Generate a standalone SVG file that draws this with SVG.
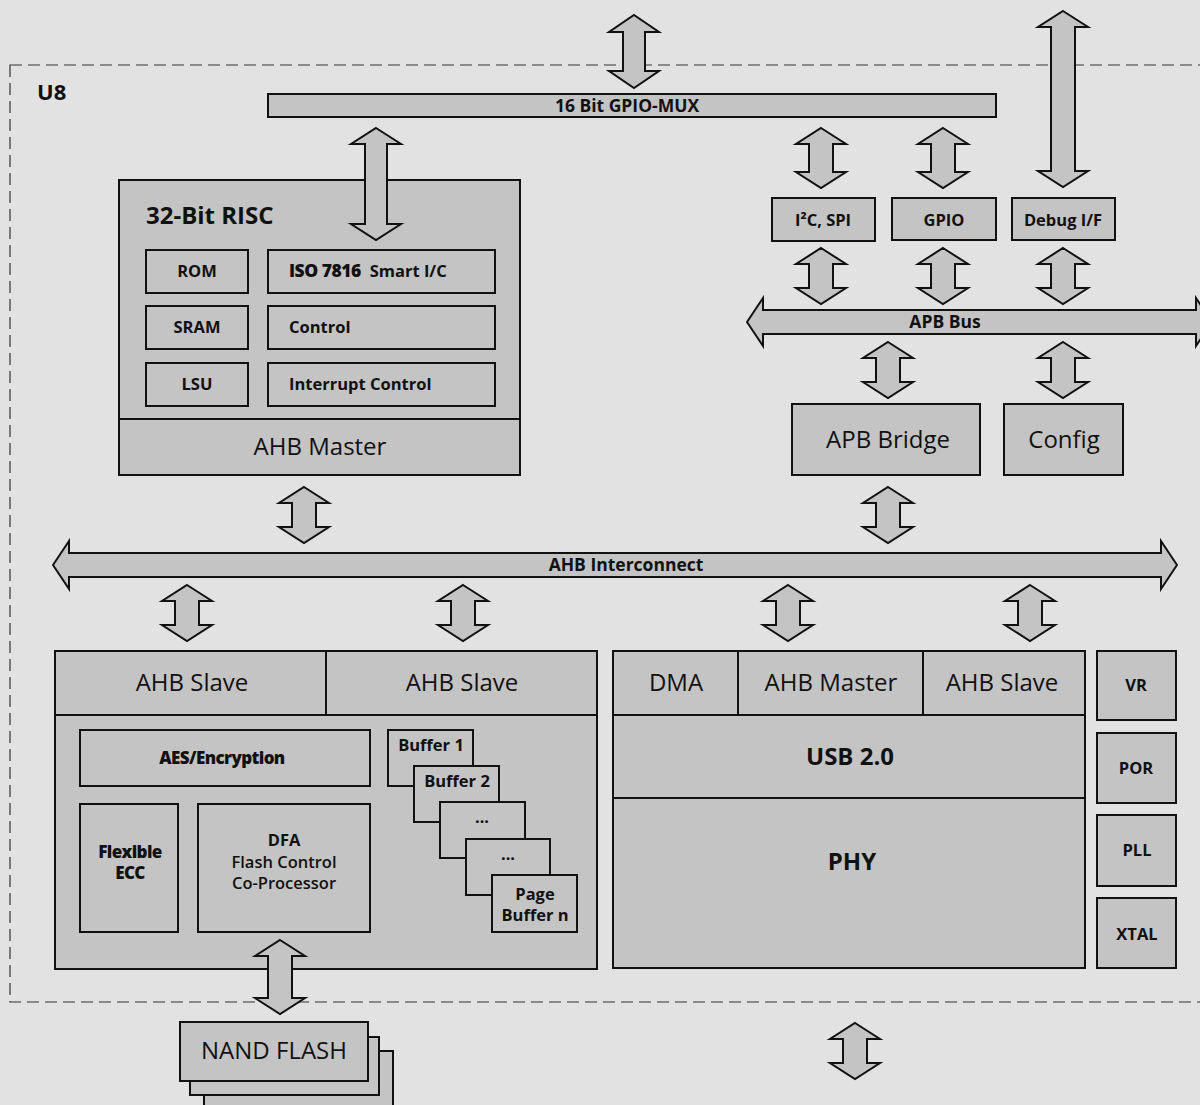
<svg xmlns="http://www.w3.org/2000/svg" xmlns:xlink="http://www.w3.org/1999/xlink" width="1200" height="1105" viewBox="0 0 1200 1105">
<defs>
<style>
.bx{fill:#c4c4c4;stroke:#111;stroke-width:2}
.ln{fill:none;stroke:#111;stroke-width:2}
.ar{fill:#c4c4c4;stroke:#111;stroke-width:2;stroke-linejoin:miter}
text{font-family:"Open Sans","Noto Sans","DejaVu Sans",sans-serif;fill:#111}
.b15{font-size:16.5px;font-weight:bold;text-anchor:middle}
.bus{font-size:17.5px;font-weight:bold;text-anchor:middle}
.n22{font-size:24px;text-anchor:middle}
.b22{font-size:24px;font-weight:bold;text-anchor:middle}
.hv{font-size:17px;font-weight:900;text-anchor:middle;letter-spacing:-0.6px}
</style>
<path id="da" d="M0,0 L25,16 L12,16 L12,40 L25,40 L0,56 L-25,40 L-12,40 L-12,16 L-25,16 Z"/>
</defs>
<rect x="0" y="0" width="1200" height="1105" fill="#e2e2e2"/>
<rect id="u8-border" x="10" y="65" width="1220" height="937" fill="none" stroke="#333" stroke-width="1.2" stroke-dasharray="12 6"/>
<text x="37" y="100" font-size="22" font-weight="bold">U8</text>

<g id="gpio-mux">
<rect class="bx" x="268" y="94" width="728" height="23"/>
<text class="bus" x="627" y="112">16 Bit GPIO-MUX</text>
</g>

<g id="i2c-spi"><rect class="bx" x="772" y="198" width="103" height="43"/><text class="b15" x="823" y="226">I²C, SPI</text></g>
<g id="gpio"><rect class="bx" x="892" y="198" width="104" height="42"/><text class="b15" x="944" y="226">GPIO</text></g>
<g id="debug-if"><rect class="bx" x="1012" y="198" width="103" height="42"/><text class="b15" x="1063" y="226">Debug I/F</text></g>

<g id="apb-bus">
<path class="ar" d="M747,322 L763,298 L763,310 L1196,310 L1196,298 L1212,322 L1196,346 L1196,334 L763,334 L763,346 Z"/>
<text class="bus" x="945" y="328">APB Bus</text>
</g>

<g id="apb-bridge"><rect class="bx" x="792" y="404" width="188" height="71"/><text class="n22" x="888" y="448" font-size="24.5">APB Bridge</text></g>
<g id="config"><rect class="bx" x="1004" y="404" width="119" height="71"/><text class="n22" x="1064" y="448" font-size="24.5">Config</text></g>

<g id="risc">
<rect class="bx" x="119" y="180" width="401" height="295"/>
<line class="ln" x1="119" y1="419" x2="520" y2="419"/>
<text x="146" y="224" font-size="24" font-weight="bold">32-Bit RISC</text>
<rect class="bx" x="146" y="250" width="102" height="43"/><text class="b15" x="197" y="277">ROM</text>
<rect class="bx" x="146" y="306" width="102" height="43"/><text class="b15" x="197" y="333">SRAM</text>
<rect class="bx" x="146" y="363" width="102" height="43"/><text class="b15" x="197" y="390">LSU</text>
<rect class="bx" x="268" y="250" width="227" height="43"/>
<text x="289" y="277" font-size="16.5" font-weight="bold"><tspan font-weight="900" font-size="17.5" letter-spacing="-0.5">ISO 7816</tspan><tspan dx="9">Smart I/C</tspan></text>
<rect class="bx" x="268" y="306" width="227" height="43"/><text x="289" y="333" font-size="16.5" font-weight="bold">Control</text>
<rect class="bx" x="268" y="363" width="227" height="43"/><text x="289" y="390" font-size="16.5" font-weight="bold">Interrupt Control</text>
<text class="n22" x="320" y="455">AHB Master</text>
</g>

<g id="ahb-interconnect">
<path class="ar" d="M53,565 L69,541 L69,553 L1161,553 L1161,541 L1177,565 L1161,589 L1161,577 L69,577 L69,589 Z"/>
<text class="bus" x="626" y="571">AHB Interconnect</text>
</g>

<g id="flash-ctrl">
<rect class="bx" x="55" y="651" width="542" height="318"/>
<line class="ln" x1="55" y1="715" x2="597" y2="715"/>
<line class="ln" x1="326" y1="651" x2="326" y2="715"/>
<text class="n22" x="192" y="691">AHB Slave</text>
<text class="n22" x="462" y="691">AHB Slave</text>
<rect class="bx" x="80" y="730" width="290" height="56"/>
<text class="hv" x="222" y="764">AES/Encryption</text>
<rect class="bx" x="80" y="804" width="98" height="128"/>
<text class="hv" x="130" y="858">Flexible</text>
<text class="hv" x="130" y="879">ECC</text>
<rect class="bx" x="198" y="804" width="172" height="128"/>
<text class="b15" x="284" y="846" font-size="17">DFA</text>
<text x="284" y="868" font-size="16.5" font-weight="600" text-anchor="middle">Flash Control</text>
<text x="284" y="889" font-size="16.5" font-weight="600" text-anchor="middle">Co-Processor</text>
<rect class="bx" x="388" y="730" width="85" height="56"/><text class="b15" x="431" y="751">Buffer 1</text>
<rect class="bx" x="414" y="766" width="85" height="56"/><text class="b15" x="457" y="787">Buffer 2</text>
<rect class="bx" x="440" y="802" width="85" height="56"/><text class="b15" x="482" y="823">...</text>
<rect class="bx" x="466" y="839" width="84" height="56"/><text class="b15" x="508" y="860">...</text>
<rect class="bx" x="492" y="875" width="85" height="57"/><text class="b15" x="535" y="900">Page</text><text class="b15" x="535" y="921">Buffer n</text>
</g>

<g id="usb">
<rect class="bx" x="613" y="651" width="472" height="317"/>
<line class="ln" x1="613" y1="715" x2="1085" y2="715"/>
<line class="ln" x1="613" y1="798" x2="1085" y2="798"/>
<line class="ln" x1="738" y1="651" x2="738" y2="715"/>
<line class="ln" x1="923" y1="651" x2="923" y2="715"/>
<text class="n22" x="676" y="691">DMA</text>
<text class="n22" x="831" y="691">AHB Master</text>
<text class="n22" x="1002" y="691">AHB Slave</text>
<text class="b22" x="850" y="765">USB 2.0</text>
<text class="b22" x="852" y="870">PHY</text>
</g>

<g id="vr"><rect class="bx" x="1097" y="651" width="79" height="69"/><text class="b15" x="1136" y="691">VR</text></g>
<g id="por"><rect class="bx" x="1097" y="733" width="79" height="70"/><text class="b15" x="1136" y="774">POR</text></g>
<g id="pll"><rect class="bx" x="1097" y="815" width="79" height="71"/><text class="b15" x="1137" y="856">PLL</text></g>
<g id="xtal"><rect class="bx" x="1097" y="898" width="79" height="70"/><text class="b15" x="1137" y="940">XTAL</text></g>

<g id="nand-flash">
<rect class="bx" x="204" y="1051" width="189" height="70"/>
<rect class="bx" x="190" y="1037" width="189" height="58"/>
<rect class="bx" x="180" y="1022" width="188" height="59"/>
<text class="n22" x="274" y="1059">NAND FLASH</text>
</g>

<g id="connectors">
<path class="ar" d="M634,15 L659,32 L645,32 L645,71 L659,71 L634,88 L609,71 L623,71 L623,32 L609,32 Z"/>
<path class="ar" d="M1063,11 L1088,27 L1075,27 L1075,171 L1088,171 L1063,187 L1038,171 L1051,171 L1051,27 L1038,27 Z"/>
<path class="ar" d="M376,128 L401,144 L387,144 L387,224 L401,224 L376,240 L351,224 L365,224 L365,144 L351,144 Z"/>
<path class="ar" d="M821,128 L846,144 L833,144 L833,172 L846,172 L821,188 L796,172 L809,172 L809,144 L796,144 Z"/>
<path class="ar" d="M943,128 L968,144 L955,144 L955,172 L968,172 L943,188 L918,172 L931,172 L931,144 L918,144 Z"/>
<use class="ar" xlink:href="#da" x="821" y="248"/>
<use class="ar" xlink:href="#da" x="943" y="248"/>
<use class="ar" xlink:href="#da" x="1063" y="248"/>
<use class="ar" xlink:href="#da" x="888" y="342"/>
<use class="ar" xlink:href="#da" x="1063" y="342"/>
<use class="ar" xlink:href="#da" x="304" y="487"/>
<use class="ar" xlink:href="#da" x="888" y="487"/>
<use class="ar" xlink:href="#da" x="187" y="585"/>
<use class="ar" xlink:href="#da" x="463" y="585"/>
<use class="ar" xlink:href="#da" x="788" y="585"/>
<use class="ar" xlink:href="#da" x="1030" y="585"/>
<path class="ar" d="M280,940 L305,956 L292,956 L292,998 L305,998 L280,1014 L255,998 L268,998 L268,956 L255,956 Z"/>
<use class="ar" xlink:href="#da" x="855" y="1023"/>
</g>
</svg>
